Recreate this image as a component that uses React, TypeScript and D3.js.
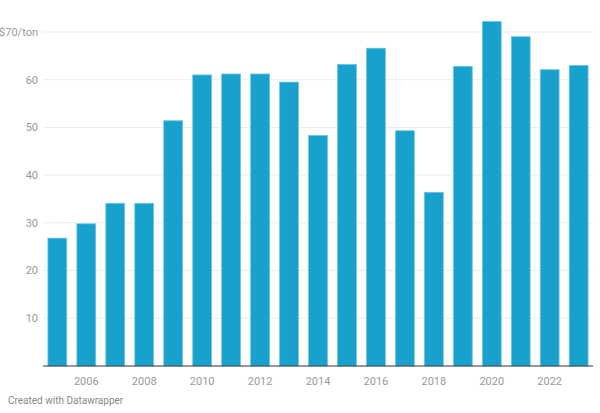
import React from "react";
import * as d3 from "d3";

const years = [2005, 2006, 2007, 2008, 2009, 2010, 2011, 2012, 2013, 2014, 2015, 2016, 2017, 2018, 2019, 2020, 2021, 2022, 2023];
const prices = [26.8, 29.8, 34.1, 34.1, 51.4, 61.0, 61.2, 61.2, 59.5, 48.3, 63.2, 66.6, 49.3, 36.4, 62.8, 72.2, 69.0, 62.1, 63.0];
const yTicks = [10, 20, 30, 40, 50, 60, 70];
const xTickYears = [2006, 2008, 2010, 2012, 2014, 2016, 2018, 2020, 2022];

export default function App() {
  const W = 600, H = 413;
  const left = 43, right = 593, top = 32, bottom = 366;
  const x = d3.scaleBand<number>().domain(years).range([left, right]).paddingInner(0.35).paddingOuter(0.17);
  const y = d3.scaleLinear().domain([0, 70]).range([bottom, top]);
  const font = "Roboto, sans-serif";
  return (
    <svg width={W} height={H} style={{ position: "absolute", left: 0, top: 0, background: "#fff" }}>
      {yTicks.map((t) => (
        <g key={t}>
          <line x1={left} x2={right} y1={y(t)} y2={y(t)} stroke="#ebebeb" strokeWidth={1} />
          <text x={38} y={y(t)} dy="0.35em" textAnchor="end" fontFamily={font} fontSize={11} fill="#9a9a9a">
            {t === 70 ? "$70/ton" : t}
          </text>
        </g>
      ))}
      {years.map((yr, i) => (
        <rect
          key={yr}
          x={x(yr)!}
          y={y(prices[i])}
          width={x.bandwidth()}
          height={bottom - y(prices[i])}
          fill="#18a1cd"
          stroke="#6cc4e2"
          strokeWidth={0.8}
        />
      ))}
      <line x1={left} x2={right} y1={bottom} y2={bottom} stroke="#333" strokeWidth={1.2} />
      {xTickYears.map((yr) => (
        <text key={yr} x={x(yr)! + x.bandwidth() / 2} y={381} dy="0.35em" textAnchor="middle" fontFamily={font} fontSize={11} fill="#9a9a9a">
          {yr}
        </text>
      ))}
      <text x={8} y={400} dy="0.35em" fontFamily={font} fontSize={10} fill="#8a8a8a">
        Created with Datawrapper
      </text>
    </svg>
  );
}
